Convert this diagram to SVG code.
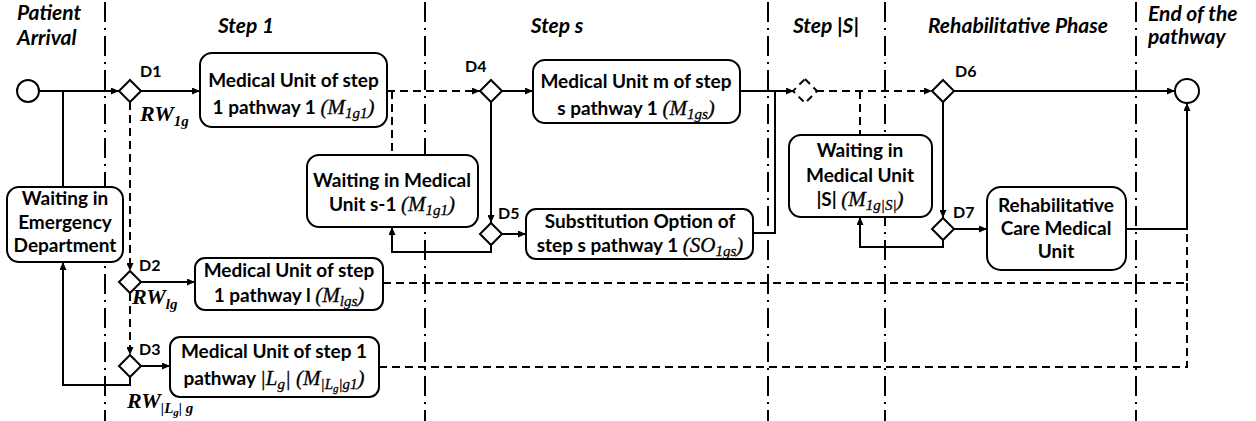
<svg xmlns="http://www.w3.org/2000/svg" width="1256" height="421" viewBox="0 0 1256 421">
<defs>
<style>
.phase{stroke:#000;stroke-width:2;stroke-dasharray:20 6 2 6;fill:none}
.box{fill:#fff;stroke:#000;stroke-width:2}
.dia{fill:#fff;stroke:#000;stroke-width:2}
.ev{fill:#fff;stroke:#000;stroke-width:2}
.c{stroke:#000;stroke-width:2;fill:none}
.d{stroke:#000;stroke-width:2;fill:none;stroke-dasharray:8 5}
.t{font-family:Lato,"Liberation Sans",sans-serif;font-weight:bold;font-size:19px;fill:#000}
.h{font-family:Lato,"Liberation Sans",sans-serif;font-weight:bold;font-style:italic;font-size:21px;fill:#000}
.lb{font-family:Lato,"Liberation Sans",sans-serif;font-weight:bold;font-size:16px;fill:#000}
.m{font-family:"Liberation Serif",serif;font-style:italic;font-weight:normal;font-size:21px;stroke:#000;stroke-width:0.3}
.rw{font-family:"Liberation Serif",serif;font-style:italic;font-weight:bold;font-size:22px;fill:#000}
.sb{font-size:15px}
.ss{font-size:11px}
</style>
<marker id="ar" markerUnits="userSpaceOnUse" markerWidth="8" markerHeight="7" refX="8" refY="3.5" orient="auto">
<path d="M0,0 L8,3.5 L0,7 z" fill="#000"/>
</marker>
</defs>
<rect width="1256" height="421" fill="#fff"/>

<g id="phases">
<line class="phase" x1="105" y1="2" x2="105" y2="421"/>
<line class="phase" x1="425" y1="2" x2="425" y2="421"/>
<line class="phase" x1="768" y1="2" x2="768" y2="421"/>
<line class="phase" x1="885" y1="2" x2="885" y2="421"/>
<line class="phase" x1="1136" y1="2" x2="1136" y2="421"/>
</g>

<g id="headers">
<text class="h" x="17" y="20">Patient</text>
<text class="h" x="17" y="45">Arrival</text>
<text class="h" x="246" y="33" text-anchor="middle">Step 1</text>
<text class="h" x="557" y="33" text-anchor="middle">Step s</text>
<text class="h" x="826" y="33" text-anchor="middle">Step |S|</text>
<text class="h" x="1018" y="33" text-anchor="middle">Rehabilitative Phase</text>
<text class="h" x="1148" y="21">End of the</text>
<text class="h" x="1148" y="44">pathway</text>
</g>

<g id="connectors">
<line class="c" x1="39" y1="91" x2="119" y2="91" marker-end="url(#ar)"/>
<line class="c" x1="63" y1="91" x2="63" y2="187"/>
<line class="c" x1="141" y1="91" x2="200" y2="91" marker-end="url(#ar)"/>
<line class="d" x1="387" y1="91" x2="480" y2="91" marker-end="url(#ar)"/>
<line class="d" x1="392" y1="91" x2="392" y2="155"/>
<line class="c" x1="502" y1="91" x2="533" y2="91" marker-end="url(#ar)"/>
<line class="c" x1="491" y1="102" x2="491" y2="223" marker-end="url(#ar)"/>
<line class="c" x1="502" y1="234" x2="526" y2="234" marker-end="url(#ar)"/>
<polyline class="c" points="491,245 491,252 392,252 392,227" marker-end="url(#ar)"/>
<line class="c" x1="740" y1="91" x2="794" y2="91" marker-end="url(#ar)"/>
<polyline class="c" points="753,233 775,233 775,91"/>
<line class="d" x1="816" y1="91" x2="932" y2="91" marker-end="url(#ar)"/>
<line class="d" x1="860" y1="91" x2="860" y2="135"/>
<line class="c" x1="954" y1="91" x2="1175" y2="91" marker-end="url(#ar)"/>
<line class="c" x1="943" y1="102" x2="943" y2="218" marker-end="url(#ar)"/>
<line class="c" x1="954" y1="229" x2="987" y2="229" marker-end="url(#ar)"/>
<polyline class="c" points="943,240 943,247 860,247 860,217" marker-end="url(#ar)"/>
<polyline class="c" points="1126,229 1187,229 1187,103" marker-end="url(#ar)"/>
<line class="d" x1="130" y1="102" x2="130" y2="271" marker-end="url(#ar)"/>
<line class="c" x1="141" y1="282" x2="195" y2="282" marker-end="url(#ar)"/>
<line class="d" x1="130" y1="293" x2="130" y2="355" marker-end="url(#ar)"/>
<line class="c" x1="141" y1="366" x2="170" y2="366" marker-end="url(#ar)"/>
<polyline class="c" points="130,377 130,385 63,385 63,262" marker-end="url(#ar)"/>
<polyline class="d" points="383,283 1187,283 1187,229"/>
<polyline class="d" points="379,367 1187,367 1187,283"/>
</g>

<g id="start"><circle class="ev" cx="28" cy="91" r="11"/></g>
<g id="end"><circle class="ev" cx="1187" cy="91" r="12"/></g>

<g id="D1"><polygon class="dia" points="130,80 141,91 130,102 119,91"/><text class="lb" x="140" y="77">D1</text></g>
<g id="D2"><polygon class="dia" points="130,271 141,282 130,293 119,282"/><text class="lb" x="139" y="271">D2</text></g>
<g id="D3"><polygon class="dia" points="130,355 141,366 130,377 119,366"/><text class="lb" x="139" y="355">D3</text></g>
<g id="D4"><polygon class="dia" points="491,80 502,91 491,102 480,91"/><text class="lb" x="465" y="72">D4</text></g>
<g id="D5"><polygon class="dia" points="491,223 502,234 491,245 480,234"/><text class="lb" x="498" y="219">D5</text></g>
<g id="D6"><polygon class="dia" points="943,80 954,91 943,102 932,91"/><text class="lb" x="955" y="77">D6</text></g>
<g id="D7"><polygon class="dia" points="943,218 954,229 943,240 932,229"/><text class="lb" x="953" y="218">D7</text></g>
<g id="Dx"><polygon class="dia" points="805,79 817,91 805,103 793,91" stroke-dasharray="7 5"/></g>

<g id="RW1g"><text class="rw" x="140" y="121">RW<tspan class="sb" dy="5">1g</tspan></text></g>
<g id="RWlg"><text class="rw" x="132" y="304">RW<tspan class="sb" dy="5">lg</tspan></text></g>
<g id="RWLg"><text class="rw" x="127" y="408">RW<tspan class="sb" dy="5">|L</tspan><tspan class="ss" dy="3">g</tspan><tspan class="sb" dy="-3">| g</tspan></text></g>

<g id="ED">
<rect class="box" x="7" y="187" width="116" height="75" rx="12"/>
<text class="t" x="65" y="205" text-anchor="middle">Waiting in</text>
<text class="t" x="65" y="229" text-anchor="middle">Emergency</text>
<text class="t" x="65" y="252" text-anchor="middle">Department</text>
</g>

<g id="M1g1">
<rect class="box" x="200" y="53" width="187" height="74" rx="12"/>
<text class="t" x="293.5" y="87" text-anchor="middle">Medical Unit of step</text>
<text class="t" x="293.5" y="114" text-anchor="middle">1 pathway 1 <tspan class="m">(M</tspan><tspan class="m sb" dy="4">1g1</tspan><tspan class="m" dy="-4">)</tspan></text>
</g>

<g id="Ws1">
<rect class="box" x="307" y="155" width="171" height="72" rx="12"/>
<text class="t" x="392" y="187" text-anchor="middle">Waiting in Medical</text>
<text class="t" x="392" y="211" text-anchor="middle">Unit s-1 <tspan class="m">(M</tspan><tspan class="m sb" dy="4">1g1</tspan><tspan class="m" dy="-4">)</tspan></text>
</g>

<g id="M1gs">
<rect class="box" x="533" y="60" width="207" height="63" rx="12"/>
<text class="t" x="636" y="88" text-anchor="middle">Medical Unit m of step</text>
<text class="t" x="636" y="115" text-anchor="middle">s pathway 1 <tspan class="m">(M</tspan><tspan class="m sb" dy="4">1gs</tspan><tspan class="m" dy="-4">)</tspan></text>
</g>

<g id="SO1gs">
<rect class="box" x="526" y="209" width="227" height="50" rx="10"/>
<text class="t" x="640" y="228" text-anchor="middle">Substitution Option of</text>
<text class="t" x="640" y="252" text-anchor="middle">step s pathway 1 <tspan class="m">(SO</tspan><tspan class="m sb" dy="4">1gs</tspan><tspan class="m" dy="-4">)</tspan></text>
</g>

<g id="WS">
<rect class="box" x="789" y="135" width="143" height="82" rx="12"/>
<text class="t" x="860" y="157" text-anchor="middle">Waiting in</text>
<text class="t" x="860" y="182" text-anchor="middle">Medical Unit</text>
<text class="t" x="860" y="206" text-anchor="middle">|S| <tspan class="m">(M</tspan><tspan class="m sb" dy="4">1g|S|</tspan><tspan class="m" dy="-4">)</tspan></text>
</g>

<g id="Rehab">
<rect class="box" x="987" y="187" width="139" height="83" rx="14"/>
<text class="t" x="1056" y="212" text-anchor="middle">Rehabilitative</text>
<text class="t" x="1056" y="235" text-anchor="middle">Care Medical</text>
<text class="t" x="1056" y="258" text-anchor="middle">Unit</text>
</g>

<g id="Mlgs">
<rect class="box" x="195" y="258" width="188" height="52" rx="10"/>
<text class="t" x="289" y="277" text-anchor="middle">Medical Unit of step</text>
<text class="t" x="289" y="302" text-anchor="middle">1 pathway l <tspan class="m">(M</tspan><tspan class="m sb" dy="4">lgs</tspan><tspan class="m" dy="-4">)</tspan></text>
</g>

<g id="MLg">
<rect class="box" x="170" y="337" width="209" height="60" rx="10"/>
<text class="t" x="274" y="358" text-anchor="middle">Medical Unit of step 1</text>
<text class="t" x="274" y="385" text-anchor="middle">pathway <tspan class="m">|L</tspan><tspan class="m sb" dy="4">g</tspan><tspan class="m" dy="-4">| (M</tspan><tspan class="m sb" dy="4">|L</tspan><tspan class="m ss" dy="3">g</tspan><tspan class="m sb" dy="-3">|g1</tspan><tspan class="m" dy="-4">)</tspan></text>
</g>
</svg>
